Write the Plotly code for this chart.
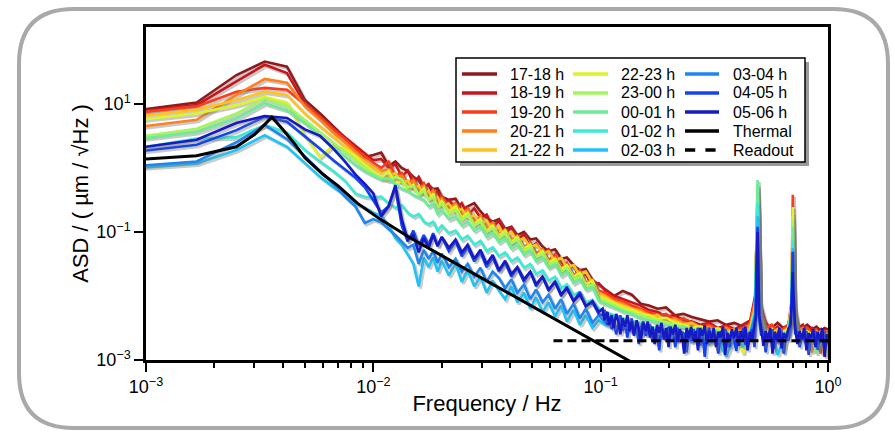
import plotly.graph_objects as go

# ---------------- data ----------------
freq_hz = [0.00083, 0.00167, 0.0025, 0.00333, 0.00417, 0.005, 0.00583, 0.00667, 0.0075, 0.00833, 0.00917, 0.01,
           0.01083, 0.01167, 0.0125, 0.01333, 0.01417, 0.015, 0.01583, 0.01667, 0.0175, 0.01833, 0.01917, 0.02,
           0.0215, 0.023, 0.0245, 0.026, 0.0278, 0.0296, 0.0315, 0.0335, 0.0357, 0.038, 0.0405, 0.043, 0.046,
           0.049, 0.052, 0.0555, 0.059, 0.063, 0.067, 0.071, 0.076, 0.081, 0.086, 0.092, 0.098,
           0.105, 0.115, 0.125, 0.137, 0.15, 0.163, 0.178, 0.194, 0.212, 0.231, 0.252, 0.275, 0.3, 0.327, 0.356,
           0.388, 0.423, 0.455, 0.478, 0.486, 0.49, 0.494, 0.502, 0.53, 0.565, 0.6, 0.635, 0.67, 0.69, 0.697,
           0.70, 0.703, 0.71, 0.74, 0.775, 0.81, 0.85, 0.89, 0.93, 0.965, 1.0]

# finer frequency sampling of the 0.1-1 Hz floor (used for the two top-most blue curves)
freq_hz_fine_tail = [0.102, 0.104, 0.107, 0.109, 0.112, 0.114, 0.117, 0.12, 0.122, 0.125,
                     0.128, 0.131, 0.134, 0.137, 0.14, 0.144, 0.147, 0.15, 0.154, 0.158,
                     0.161, 0.165, 0.169, 0.173, 0.177, 0.181, 0.185, 0.19, 0.194, 0.199,
                     0.203, 0.208, 0.213, 0.218, 0.223, 0.228, 0.233, 0.239, 0.244, 0.25,
                     0.256, 0.262, 0.268, 0.274, 0.28, 0.287, 0.293, 0.3, 0.307, 0.314,
                     0.322, 0.329, 0.337, 0.345, 0.353, 0.361, 0.369, 0.378, 0.386, 0.395,
                     0.405, 0.414, 0.424, 0.433, 0.443, 0.454, 0.464, 0.475, 0.482, 0.486,
                     0.49, 0.494, 0.498, 0.508, 0.52, 0.532, 0.544, 0.557, 0.57, 0.583,
                     0.597, 0.611, 0.625, 0.639, 0.654, 0.669, 0.684, 0.693, 0.697, 0.70,
                     0.703, 0.708, 0.717, 0.733, 0.75, 0.768, 0.785, 0.804, 0.822, 0.841,
                     0.861, 0.881, 0.901, 0.922, 0.944, 0.966, 0.988, 1.0]
freq_hz_fine = freq_hz[:49] + freq_hz_fine_tail

# log10 of ASD (um/sqrt(Hz)) per hour
log_asd_17_18 = [0.88, 1.02, 1.45, 1.66, 1.58, 1.06, 0.85, 0.64, 0.47, 0.32, 0.17, 0.2,
                 0.24, 0.03, 0.1, 0.0, -0.05, -0.14, -0.2, -0.3, -0.27, -0.33, -0.32, -0.45, -0.5, -0.48, -0.66,
                 -0.6, -0.55, -0.68, -0.78, -0.84, -0.8, -0.95, -0.92, -1.05, -1.0, -1.12, -1.1, -1.23, -1.3,
                 -1.27, -1.42, -1.4, -1.52, -1.6, -1.58, -1.75, -1.82,
                 -1.9, -2.0, -1.92, -1.98, -2.12, -2.15, -2.2, -2.18, -2.3, -2.28, -2.33, -2.36, -2.4, -2.38,
                 -2.45, -2.42, -2.48, -2.4, -2.1, -1.2, -0.6, -1.2, -2.2, -2.45, -2.5, -2.42, -2.5, -2.45, -2.2,
                 -1.5, -1.0, -1.5, -2.3, -2.48, -2.5, -2.45, -2.52, -2.48, -2.55, -2.5, -2.52]
log_asd_18_19 = [0.86, 0.98, 1.35, 1.61, 1.48, 1.0, 0.8, 0.62, 0.48, 0.35, 0.22, 0.12,
                 0.14, 0.0, 0.06, -0.14, -0.04, -0.24, -0.14, -0.3, -0.25, -0.44, -0.36, -0.55, -0.5, -0.64,
                 -0.55, -0.74, -0.63, -0.78, -0.73, -0.93, -0.82, -1.02, -0.93, -1.13, -1.03, -1.24, -1.18,
                 -1.35, -1.27, -1.48, -1.45, -1.6, -1.52, -1.73, -1.65, -1.86, -1.8,
                 -1.92, -2.0, -2.05, -2.1, -2.15, -2.22, -2.25, -2.32, -2.3, -2.38, -2.4, -2.45, -2.42, -2.5,
                 -2.46, -2.52, -2.45, -2.38, -2.0, -1.1, -0.5, -1.1, -2.1, -2.4, -2.55, -2.48, -2.58, -2.5,
                 -2.25, -1.4, -0.9, -1.4, -2.2, -2.5, -2.45, -2.58, -2.5, -2.6, -2.52, -2.6, -2.55]
log_asd_19_20 = [0.85, 0.96, 1.19, 1.25, 1.22, 1.0, 0.8, 0.6, 0.45, 0.3, 0.18, 0.08,
                 0.0, 0.1, -0.12, -0.08, -0.25, -0.17, -0.34, -0.24, -0.42, -0.34, -0.52, -0.44, -0.62, -0.55,
                 -0.72, -0.63, -0.84, -0.75, -0.95, -0.86, -1.05, -0.97, -1.15, -1.06, -1.24, -1.16, -1.34,
                 -1.27, -1.45, -1.35, -1.56, -1.48, -1.68, -1.6, -1.8, -1.74, -1.92,
                 -1.95, -2.05, -2.08, -2.15, -2.2, -2.25, -2.3, -2.28, -2.38, -2.35, -2.42, -2.48, -2.45, -2.52,
                 -2.48, -2.55, -2.5, -2.42, -2.05, -1.0, -0.4, -1.0, -2.15, -2.5, -2.45, -2.58, -2.52, -2.45,
                 -2.1, -1.0, -0.42, -1.0, -2.1, -2.52, -2.6, -2.5, -2.58, -2.52, -2.9, -2.55, -2.58]
log_asd_20_21 = [0.62, 0.75, 1.14, 1.39, 1.33, 0.96, 0.75, 0.55, 0.4, 0.25, 0.12, 0.02,
                 -0.05, -0.02, -0.15, -0.12, -0.26, -0.2, -0.34, -0.28, -0.44, -0.36, -0.52, -0.48, -0.64, -0.56,
                 -0.72, -0.66, -0.84, -0.76, -0.92, -0.86, -1.04, -0.96, -1.12, -1.06, -1.24, -1.18, -1.36,
                 -1.28, -1.46, -1.4, -1.58, -1.52, -1.68, -1.64, -1.8, -1.76, -1.94,
                 -2.0, -2.08, -2.12, -2.2, -2.22, -2.3, -2.32, -2.38, -2.35, -2.42, -2.45, -2.5, -2.48, -2.55,
                 -2.5, -2.58, -2.52, -2.45, -2.1, -1.05, -0.45, -1.05, -2.2, -2.55, -2.5, -2.6, -2.55, -2.5,
                 -2.2, -1.2, -0.7, -1.2, -2.25, -2.55, -2.5, -2.62, -2.88, -2.6, -2.55, -2.62, -2.6]
log_asd_21_22 = [0.78, 0.91, 1.06, 1.19, 1.14, 0.85, 0.65, 0.48, 0.32, 0.2, 0.1, 0.0,
                 -0.08, -0.14, -0.08, -0.24, -0.2, -0.34, -0.28, -0.42, -0.36, -0.5, -0.46, -0.6, -0.56, -0.7,
                 -0.64, -0.78, -0.74, -0.88, -0.82, -0.98, -0.92, -1.08, -1.0, -1.14, -1.1, -1.24, -1.2, -1.34,
                 -1.3, -1.46, -1.4, -1.56, -1.52, -1.68, -1.62, -1.8, -1.96,
                 -2.02, -2.1, -2.15, -2.2, -2.25, -2.32, -2.3, -2.4, -2.38, -2.45, -2.42, -2.5, -2.52, -2.85,
                 -2.56, -2.52, -2.58, -2.5, -2.2, -1.0, -0.35, -1.0, -2.25, -2.55, -2.6, -2.52, -2.58, -2.55,
                 -2.25, -1.3, -0.75, -1.3, -2.3, -2.6, -2.55, -2.58, -2.62, -2.56, -2.62, -2.58, -2.6]
log_asd_22_23 = [0.73, 0.85, 0.98, 1.11, 1.02, 0.5, 0.17, 0.35, 0.3, 0.18, 0.05, -0.05,
                 -0.15, -0.05, -0.24, -0.2, -0.34, -0.26, -0.42, -0.32, -0.5, -0.4, -0.6, -0.52, -0.68, -0.6,
                 -0.78, -0.7, -0.88, -0.8, -0.98, -0.9, -1.06, -0.98, -1.16, -1.08, -1.26, -1.2, -1.38, -1.3,
                 -1.48, -1.42, -1.58, -1.52, -1.7, -1.64, -1.82, -1.76, -2.0,
                 -2.05, -2.12, -2.18, -2.22, -2.28, -2.3, -2.36, -2.34, -2.42, -2.45, -2.5, -2.47, -2.55, -2.5,
                 -2.58, -2.54, -2.9, -2.52, -2.2, -0.9, -0.3, -0.9, -2.25, -2.58, -2.52, -2.62, -2.56, -2.5,
                 -2.15, -1.1, -0.61, -1.1, -2.2, -2.58, -2.62, -2.55, -2.6, -2.65, -2.58, -2.92, -2.6]
log_asd_23_00 = [0.46, 0.61, 0.85, 1.08, 0.97, 0.75, 0.55, 0.4, 0.25, 0.12, 0.0, -0.1,
                 -0.15, -0.2, -0.14, -0.18, -0.3, -0.28, -0.42, -0.36, -0.5, -0.46, -0.62, -0.56, -0.72, -0.66,
                 -0.82, -0.74, -0.9, -0.84, -1.0, -0.94, -1.1, -1.02, -1.18, -1.12, -1.3, -1.24, -1.4, -1.34,
                 -1.52, -1.46, -1.62, -1.56, -1.74, -1.7, -1.86, -1.82, -2.04,
                 -2.08, -2.15, -2.2, -2.26, -2.3, -2.35, -2.38, -2.42, -2.45, -2.48, -2.52, -2.5, -2.56, -2.53,
                 -2.6, -2.55, -2.62, -2.55, -2.25, -0.85, -0.25, -0.85, -2.3, -2.6, -2.55, -2.64, -2.88, -2.52,
                 -2.2, -1.3, -0.8, -1.3, -2.25, -2.6, -2.55, -2.64, -2.6, -2.58, -2.66, -2.6, -2.62]
log_asd_00_01 = [0.43, 0.56, 0.77, 1.01, 0.9, 0.7, 0.5, 0.32, 0.18, 0.05, -0.05, -0.12,
                 -0.18, -0.16, -0.26, -0.32, -0.36, -0.42, -0.46, -0.5, -0.6, -0.56, -0.72, -0.66, -0.8, -0.76,
                 -0.9, -0.84, -0.98, -0.92, -1.08, -1.02, -1.16, -1.1, -1.26, -1.2, -1.36, -1.3, -1.46, -1.4,
                 -1.56, -1.5, -1.68, -1.62, -1.8, -1.74, -1.9, -1.86, -2.08,
                 -2.12, -2.18, -2.24, -2.28, -2.35, -2.38, -2.42, -2.45, -2.5, -2.48, -2.55, -2.52, -2.58,
                 -2.56, -2.62, -2.58, -2.65, -2.56, -2.2, -0.75, -0.19, -0.75, -2.25, -2.62, -2.58, -2.66, -2.6,
                 -2.55, -2.2, -1.4, -0.92, -1.4, -2.25, -2.62, -2.58, -2.66, -2.62, -2.9, -2.68, -2.62, -2.64]
log_asd_01_02 = [0.28, 0.46, 0.48, 0.67, 0.55, 0.28, 0.1, -0.05, -0.2, -0.4, -0.45, -0.46,
                 -0.45, -0.55, -0.62, -0.58, -0.7, -0.76, -0.72, -0.84, -0.88, -0.84, -0.98, -0.9, -1.02, -0.98,
                 -1.12, -1.06, -1.2, -1.14, -1.3, -1.24, -1.38, -1.32, -1.46, -1.4, -1.56, -1.5, -1.66, -1.6,
                 -1.76, -1.7, -1.88, -1.82, -1.98, -1.94, -2.1, -2.06, -2.2,
                 -2.25, -2.3, -2.35, -2.4, -2.42, -2.48, -2.5, -2.52, -2.55, -2.58, -2.6, -2.56, -2.64, -2.6,
                 -2.66, -2.62, -2.68, -2.6, -2.25, -1.0, -0.55, -1.0, -2.3, -2.65, -2.6, -2.7, -2.64, -2.58,
                 -2.25, -1.5, -1.12, -1.5, -2.3, -2.66, -2.62, -2.7, -2.65, -2.62, -2.7, -2.66, -2.68]
log_asd_02_03 = [-0.01, 0.07, 0.28, 0.51, 0.33, 0.07, -0.14, -0.3, -0.42, -0.55, -0.62, -0.7,
                 -0.75, -0.9, -1.1, -1.2, -1.35, -1.5, -1.85, -1.4, -1.55, -1.4, -1.62, -1.45, -1.68, -1.5,
                 -1.78, -1.6, -1.85, -1.7, -1.95, -1.76, -1.92, -2.05, -1.85, -2.1, -1.95, -2.2, -2.02, -2.25,
                 -2.1, -2.32, -2.15, -2.4, -2.22, -2.45, -2.3, -2.5, -2.38,
                 -2.45, -2.5, -2.48, -2.55, -2.6, -2.58, -2.65, -2.62, -2.7, -2.64, -2.72, -2.66, -2.75, -2.68,
                 -2.95, -2.65, -2.78, -2.62, -2.3, -1.2, -0.75, -1.2, -2.35, -2.7, -2.65, -2.92, -2.68, -2.62,
                 -2.3, -1.6, -1.25, -1.6, -2.35, -2.7, -2.66, -2.78, -2.7, -2.65, -2.74, -2.68, -2.72]
log_asd_03_04 = [0.02, 0.1, 0.4, 0.67, 0.45, 0.18, -0.05, -0.25, -0.45, -0.6, -0.86, -0.8,
                 -0.85, -0.95, -1.05, -1.15, -1.25, -1.2, -1.5, -1.28, -1.42, -1.3, -1.48, -1.34, -1.55, -1.42,
                 -1.62, -1.5, -1.7, -1.56, -1.78, -1.62, -1.72, -1.88, -1.74, -1.95, -1.82, -2.05, -1.9, -2.1,
                 -1.98, -2.2, -2.05, -2.28, -2.12, -2.35, -2.2, -2.42, -2.3,
                 -2.42, -2.48, -2.45, -2.52, -2.58, -2.55, -2.62, -2.6, -2.68, -2.62, -2.7, -2.64, -2.72, -2.66,
                 -2.8, -2.62, -2.7, -2.6, -2.3, -1.3, -0.95, -1.3, -2.35, -2.68, -2.62, -2.72, -2.66, -2.6,
                 -2.3, -1.7, -1.31, -1.7, -2.35, -2.68, -2.64, -2.75, -2.68, -2.62, -2.72, -2.66, -2.7]
# these two use freq_hz_fine (same first 49 points, finer sampling above 0.1 Hz)
log_asd_04_05 = [0.24, 0.36, 0.59, 0.8, 0.72, 0.5, 0.3, 0.12, -0.02, -0.15, -0.3, -0.5,
                 -0.7, -0.6, -0.32, -0.9, -1.15, -0.98, -1.22, -1.05, -1.2, -1.02, -1.22, -1.08, -1.3, -1.15,
                 -1.38, -1.24, -1.46, -1.32, -1.55, -1.4, -1.62, -1.48, -1.7, -1.56, -1.78, -1.62, -1.85, -1.7,
                 -1.92, -1.78, -2.0, -1.86, -2.08, -1.94, -2.16, -2.1, -2.28,
                 -2.3, -2.22, -2.45, -2.32, -2.52, -2.38, -2.6, -2.4, -2.3, -2.55,
                 -2.42, -2.65, -2.45, -2.35, -2.58, -2.48, -2.75, -2.5, -2.4, -2.62,
                 -2.5, -2.45, -2.72, -2.52, -2.62, -2.85, -2.5, -2.58, -2.7, -2.48,
                 -2.62, -2.55, -2.8, -2.5, -2.68, -2.56, -2.6, -2.88, -2.54, -2.7,
                 -2.52, -2.62, -2.5, -2.78, -2.56, -2.95, -2.6, -2.5, -2.72, -2.58,
                 -2.66, -2.9, -2.55, -2.7, -2.52, -2.62, -2.8, -2.56, -2.68, -2.86,
                 -2.55, -2.65, -2.5, -2.76, -2.58, -2.62, -2.52, -2.8, -2.35, -1.5,
                 -0.92, -1.5, -2.35, -2.62, -2.55, -2.88, -2.6, -2.7, -2.52, -2.82,
                 -2.58, -2.66, -2.54, -2.9, -2.6, -2.7, -2.5, -2.1, -1.7, -1.31,
                 -1.7, -2.1, -2.6, -2.55, -2.8, -2.6, -2.7, -2.55, -2.92, -2.62,
                 -2.7, -2.55, -2.84, -2.6, -2.66, -2.55, -2.75, -2.62]
log_asd_05_06 = [0.29, 0.44, 0.7, 0.81, 0.78, 0.6, 0.5, 0.3, 0.1, -0.1, -0.25, -0.4,
                 -0.76, -0.6, -0.27, -0.8, -1.12, -1.05, -1.32, -1.1, -1.25, -1.05, -1.22, -1.08, -1.25, -1.12,
                 -1.32, -1.2, -1.42, -1.28, -1.5, -1.36, -1.6, -1.45, -1.66, -1.55, -1.74, -1.62, -1.82, -1.7,
                 -1.9, -1.78, -1.98, -1.88, -2.08, -1.98, -2.16, -2.08, -2.25,
                 -2.2, -2.38, -2.25, -2.45, -2.3, -2.5, -2.28, -2.42, -2.6, -2.35,
                 -2.48, -2.3, -2.55, -2.4, -2.62, -2.38, -2.5, -2.7, -2.42, -2.55,
                 -2.4, -2.65, -2.48, -2.75, -2.45, -2.58, -2.42, -2.68, -2.5, -2.8,
                 -2.48, -2.6, -2.45, -2.72, -2.52, -2.62, -2.9, -2.5, -2.66, -2.48,
                 -2.7, -2.55, -2.85, -2.5, -2.62, -2.46, -2.75, -2.55, -2.68, -2.5,
                 -2.8, -2.56, -2.65, -2.48, -2.92, -2.58, -2.7, -2.52, -2.66, -2.5,
                 -2.78, -2.55, -2.68, -2.48, -2.85, -2.56, -2.7, -2.45, -2.3, -1.6,
                 -1.0, -1.6, -2.3, -2.5, -2.78, -2.55, -2.68, -2.5, -2.9, -2.56,
                 -2.7, -2.5, -2.82, -2.58, -2.66, -2.52, -2.45, -2.1, -1.9, -1.63,
                 -1.9, -2.2, -2.5, -2.75, -2.55, -2.68, -2.5, -2.85, -2.58, -2.66,
                 -2.52, -2.8, -2.56, -2.7, -2.5, -2.95, -2.6, -2.66]

hour_labels = ["17-18 h", "18-19 h", "19-20 h", "20-21 h", "21-22 h", "22-23 h", "23-00 h",
               "00-01 h", "01-02 h", "02-03 h", "03-04 h", "04-05 h", "05-06 h"]
hour_series = [log_asd_17_18, log_asd_18_19, log_asd_19_20, log_asd_20_21, log_asd_21_22, log_asd_22_23,
               log_asd_23_00, log_asd_00_01, log_asd_01_02, log_asd_02_03, log_asd_03_04, log_asd_04_05,
               log_asd_05_06]
hour_freqs = [freq_hz] * 11 + [freq_hz_fine, freq_hz_fine]
hour_colors = ["#8E1B1B", "#C9141B", "#FB3B1B", "#FF801C", "#FFC21E", "#DDF52A", "#A3F65C", "#6DEB98",
               "#3DEBD5", "#1FC3F5", "#1E86EE", "#1444EE", "#1519C6"]

thermal_freq_hz = [0.00083, 0.001, 0.00167, 0.0025, 0.003, 0.00333, 0.00358, 0.004, 0.0045, 0.005, 0.006,
                   0.007, 0.0085, 0.0107, 0.0145, 0.02, 0.03, 0.05, 0.08, 0.131, 0.16]
thermal_log_asd = [0.12, 0.14, 0.19, 0.33, 0.52, 0.68, 0.79, 0.6, 0.38, 0.16, -0.1, -0.28, -0.55, -0.8,
                   -1.09, -1.37, -1.72, -2.17, -2.58, -3.0, -3.17]

readout_freq_hz = [0.062, 1.0]
readout_asd = [2.0e-3, 2.0e-3]

x_tick_vals = [1e-3, 1e-2, 1e-1, 1e0]
x_tick_text = ["10<sup>−3</sup>", "10<sup>−2</sup>", "10<sup>−1</sup>", "10<sup>0</sup>"]
y_tick_vals = [1e-3, 1e-1, 1e1]
y_tick_text = ["10<sup>−3</sup>", "10<sup>−1</sup>", "10<sup>1</sup>"]

# ---------------- figure ----------------
W, H = 895, 433
ML, MR, MT, MB = 146, 67, 27, 73
PW, PH = W - ML - MR, H - MT - MB
FONT = "Liberation Sans, Arial, sans-serif"


def px(x):
    return (x - ML) / PW


def py(y):
    return (H - MB - y) / PH


fig = go.Figure()
for lab, logv, fr, col in zip(hour_labels, hour_series, hour_freqs, hour_colors):
    f = fr[:len(logv)]
    asd = [10 ** v for v in logv[:len(f)]]
    fig.add_trace(go.Scatter(x=[v * 1.018 for v in f], y=[a * 0.93 for a in asd], mode="lines",
                             line=dict(color="rgba(120,120,120,0.40)", width=3),
                             hoverinfo="skip", showlegend=False))
    fig.add_trace(go.Scatter(x=f, y=asd, mode="lines", name=lab,
                             line=dict(color=col, width=2.6), showlegend=False))

fig.add_trace(go.Scatter(x=thermal_freq_hz, y=[10 ** v for v in thermal_log_asd], mode="lines",
                         name="Thermal", line=dict(color="black", width=3), showlegend=False))
fig.add_trace(go.Scatter(x=readout_freq_hz, y=readout_asd, mode="lines", name="Readout",
                         line=dict(color="black", width=3, dash="9px,5px"), showlegend=False))

shapes = []
annotations = []

# rounded outer frame
L, T, R, B, r = 19, 9, 888, 428, 55
rx, ry = r / PW, r / PH
xL, xR, yT, yB = px(L), px(R), py(T), py(B)
path = (f"M {xL+rx},{yT} L {xR-rx},{yT} Q {xR},{yT} {xR},{yT-ry} L {xR},{yB+ry} Q {xR},{yB} {xR-rx},{yB} "
        f"L {xL+rx},{yB} Q {xL},{yB} {xL},{yB+ry} L {xL},{yT-ry} Q {xL},{yT} {xL+rx},{yT} Z")
shapes.append(dict(type="path", xref="paper", yref="paper", path=path,
                   line=dict(color="#A9A9A9", width=4), layer="below"))

# legend box with shadow
bx0, by0, bx1, by1 = 456, 58, 805, 162
shapes.append(dict(type="rect", xref="paper", yref="paper", x0=px(bx0 + 4), x1=px(bx1 + 4),
                   y0=py(by1 + 4), y1=py(by0 + 4), fillcolor="#9A9A9A", line=dict(width=0), layer="above"))
shapes.append(dict(type="rect", xref="paper", yref="paper", x0=px(bx0), x1=px(bx1),
                   y0=py(by1), y1=py(by0), fillcolor="white", line=dict(color="black", width=1.5),
                   layer="above"))

legend_labels = hour_labels + ["Thermal", "Readout"]
legend_colors = hour_colors + ["black", "black"]
col_line_x = [(462, 497), (573, 608), (685, 719)]
col_text_x = [508, 619, 731]
row_y = [74, 93, 112, 131, 150]
for i, (lab, col) in enumerate(zip(legend_labels, legend_colors)):
    c, rr = divmod(i, 5)
    x0, x1 = col_line_x[c]
    yy = row_y[rr]
    shapes.append(dict(type="line", xref="paper", yref="paper", x0=px(x0), x1=px(x1), y0=py(yy), y1=py(yy),
                       line=dict(color=col, width=3.4, dash="dash" if lab == "Readout" else "solid"),
                       layer="above"))
    annotations.append(dict(text=lab, xref="paper", yref="paper", x=px(col_text_x[c]), y=py(yy),
                            xanchor="left", yanchor="middle", showarrow=False,
                            font=dict(family=FONT, size=16, color="black")))

fig.update_layout(
    width=W, height=H, autosize=False,
    margin=dict(l=ML, r=MR, t=MT, b=MB),
    paper_bgcolor="white", plot_bgcolor="white",
    showlegend=False,
    shapes=shapes, annotations=annotations,
    font=dict(family=FONT, color="black"),
)
fig.update_xaxes(type="log", range=[-3, 0], tickmode="array", tickvals=x_tick_vals, ticktext=x_tick_text,
                 showline=True, linecolor="black", linewidth=2.5, mirror=True,
                 ticks="outside", ticklen=9, tickwidth=2, tickcolor="black",
                 minor=dict(ticks="outside", ticklen=5, tickwidth=1.5, tickcolor="black", dtick="D1",
                            showgrid=False),
                 showgrid=False, zeroline=False,
                 tickfont=dict(family=FONT, size=18, color="black"),
                 title=dict(text="Frequency / Hz", font=dict(family=FONT, size=22, color="black"), standoff=0))
fig.update_yaxes(type="log", range=[-3, 2.2], tickmode="array", tickvals=y_tick_vals, ticktext=y_tick_text,
                 showline=True, linecolor="black", linewidth=2.5, mirror=True,
                 ticks="outside", ticklen=9, tickwidth=2, tickcolor="black",
                 showgrid=False, zeroline=False,
                 tickfont=dict(family=FONT, size=18, color="black"),
                 title=dict(text="ASD / ( µm / √Hz )", font=dict(family=FONT, size=22, color="black"),
                            standoff=2))

fig.write_html("out.html", config={"displayModeBar": False},
               post_script="document.body.style.margin='0';")
